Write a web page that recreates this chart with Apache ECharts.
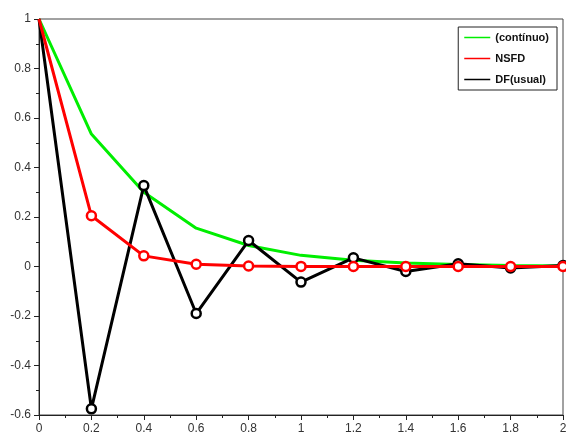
<!DOCTYPE html>
<html>
<head>
<meta charset="utf-8">
<script src="https://cdn.jsdelivr.net/npm/echarts@6/dist/echarts.min.js"></script>
<style>
  html, body { margin: 0; padding: 0; background: #fff; }
  #chart { width: 566px; height: 439px; }
</style>
</head>
<body>
<div id="chart"></div>
<script>
// time steps
const tValues = [0, 0.2, 0.4, 0.6, 0.8, 1.0, 1.2, 1.4, 1.6, 1.8, 2.0];

// (contínuo)
const continuo = [1, 0.535, 0.3, 0.155, 0.085, 0.045, 0.025, 0.014, 0.008, 0.004, 0.002];
// NSFD
const nsfd = [1, 0.205, 0.043, 0.009, 0.002, 0.0005, 0, 0, 0, 0, 0];
// DF(usual)
const dfUsual = [1, -0.575, 0.327, -0.19, 0.105, -0.063, 0.035, -0.02, 0.011, -0.006, 0.004];

const seriesNames = ["(contínuo)", "NSFD", "DF(usual)"];
const seriesColors = ["#00ee00", "#ff0000", "#000000"];

const chart = echarts.init(document.getElementById("chart"));

// first point (corner) has no visible marker in the original
function pairs(vals) {
  return tValues.map((t, i) => i === 0 ? { value: [t, vals[i]], symbol: "none" } : [t, vals[i]]);
}

const fmt = (v) => String(parseFloat(v.toFixed(1)));

const option = {
  animation: false,
  grid: {
    left: 39,
    right: 3,
    top: 19,
    bottom: 24,
    outerBoundsMode: "none",
    show: true,
    borderColor: "#444",
    borderWidth: 1,
  },
  legend: {
    data: seriesNames.map((name, i) => ({
      name,
      icon: "rect",
      itemStyle: { color: seriesColors[i], borderColor: seriesColors[i], borderWidth: 0, opacity: 1 },
    })),
    orient: "vertical",
    right: 9,
    top: 27,
    padding: [4, 8, 4, 6],
    itemGap: 8,
    itemWidth: 26,
    itemHeight: 1.5,
    borderColor: "#222",
    borderWidth: 1,
    backgroundColor: "#fff",
    textStyle: { color: "#111", fontSize: 11, fontWeight: "bold", fontFamily: "Liberation Sans", lineHeight: 13 },
  },
  xAxis: {
    type: "value",
    min: 0,
    max: 2,
    interval: 0.2,
    axisLine: { onZero: false, lineStyle: { color: "#222" } },
    axisTick: { length: 5, lineStyle: { color: "#222" } },
    minorTick: { show: true, splitNumber: 2, length: 3, lineStyle: { color: "#222" } },
    splitLine: { show: false },
    axisLabel: { color: "#333", fontSize: 12, fontFamily: "Liberation Sans", margin: 8, formatter: fmt },
  },
  yAxis: {
    type: "value",
    min: -0.6,
    max: 1,
    interval: 0.2,
    axisLine: { show: true, onZero: false, lineStyle: { color: "#222" } },
    axisTick: { show: true, length: 5, lineStyle: { color: "#222" } },
    minorTick: { show: true, splitNumber: 2, length: 3, lineStyle: { color: "#222" } },
    splitLine: { show: false },
    axisLabel: { color: "#333", fontSize: 12, fontFamily: "Liberation Sans", margin: 8, formatter: fmt },
  },
  series: [
    {
      name: seriesNames[0],
      type: "line",
      data: pairs(continuo),
      symbol: "circle",
      showSymbol: false,
      lineStyle: { color: seriesColors[0], width: 3 },
      itemStyle: { color: seriesColors[0] },
      z: 2,
    },
    {
      name: seriesNames[1],
      type: "line",
      data: pairs(nsfd),
      symbol: "circle",
      symbolSize: 9,
      lineStyle: { color: seriesColors[1], width: 3 },
      itemStyle: { color: "#fff", borderColor: seriesColors[1], borderWidth: 2.5 },
      z: 4,
    },
    {
      name: seriesNames[2],
      type: "line",
      data: pairs(dfUsual),
      symbol: "circle",
      symbolSize: 9,
      lineStyle: { color: seriesColors[2], width: 3 },
      itemStyle: { color: "#fff", borderColor: seriesColors[2], borderWidth: 2.5 },
      z: 3,
    },
  ],
};

chart.setOption(option);
</script>
</body>
</html>
